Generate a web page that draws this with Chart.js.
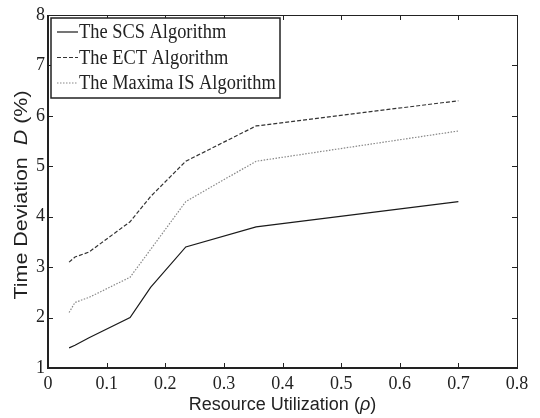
<!DOCTYPE html>
<html>
<head>
<meta charset="utf-8">
<script src="https://cdn.jsdelivr.net/npm/chart.js@4"></script>
<style>
  body { margin: 0; background: #fff; }
  #wrap { width: 540px; height: 418px; }
</style>
</head>
<body>
<div id="wrap"><canvas id="myChart"></canvas></div>
<script>
// resource utilization (rho) sample points
const utilization = [0.036, 0.046, 0.07, 0.14, 0.175, 0.235, 0.355, 0.7];
const scsDeviation = [1.4, 1.45, 1.6, 2.0, 2.6, 3.4, 3.8, 4.3];
const ectDeviation = [3.1, 3.2, 3.3, 3.9, 4.4, 5.1, 5.8, 6.3];
const maximaDeviation = [2.1, 2.3, 2.4, 2.8, 3.35, 4.3, 5.1, 5.7];
const seriesNames = ['The SCS Algorithm', 'The ECT Algorithm', 'The Maxima IS Algorithm'];
const xTicks = [0, 0.1, 0.2, 0.3, 0.4, 0.5, 0.6, 0.7, 0.8];
const yTicks = [1, 2, 3, 4, 5, 6, 7, 8];

const serif = "'Liberation Serif', 'Times New Roman', serif";
const sans = "'Liberation Sans', Arial, sans-serif";

function points(vals) {
    return utilization.map((x, i) => ({ x: x, y: vals[i] }));
}

// draws a run of text pieces (some italic) centred on 0,0
function mixedText(c, parts) {
    let total = 0;
    parts.forEach(p => { c.font = p[1]; total += c.measureText(p[0]).width; });
    let x0 = -total / 2;
    parts.forEach(p => {
        c.font = p[1];
        c.fillText(p[0], x0, 0);
        x0 += c.measureText(p[0]).width;
    });
}

// box, inward ticks, axis titles and the legend
const decor = {
    id: 'decor',
    afterDraw(chart) {
        const c = chart.ctx;
        const a = chart.chartArea;
        const xs = chart.scales.x, ys = chart.scales.y;
        c.save();
        c.strokeStyle = '#222';
        c.lineWidth = 1;
        c.strokeRect(a.left + 0.5, a.top + 0.5, a.right - a.left, a.bottom - a.top);
        c.lineWidth = 2;
        c.beginPath();
        c.moveTo(a.left, a.top);
        c.lineTo(a.left, a.bottom);
        c.lineTo(a.right, a.bottom);
        c.stroke();
        c.lineWidth = 1;
        c.beginPath();
        xTicks.forEach(v => {
            const px = Math.round(xs.getPixelForValue(v)) + 0.5;
            c.moveTo(px, a.bottom); c.lineTo(px, a.bottom - 5);
            c.moveTo(px, a.top); c.lineTo(px, a.top + 5);
        });
        yTicks.forEach(v => {
            const py = Math.round(ys.getPixelForValue(v)) + 0.5;
            c.moveTo(a.left, py); c.lineTo(a.left + 5, py);
            c.moveTo(a.right, py); c.lineTo(a.right - 5, py);
        });
        c.stroke();

        c.fillStyle = '#222';
        c.textBaseline = 'middle';

        // y axis title
        c.save();
        c.translate(22, 195);
        c.rotate(-Math.PI / 2);
        c.scale(1.13, 1);
        mixedText(c, [
            ['Time Deviation  ', '19px ' + sans],
            ['D', 'italic 19px ' + sans],
            [' (%)', '19px ' + sans]
        ]);
        c.restore();

        // x axis title
        c.save();
        c.translate((a.left + a.right) / 2, 405);
        mixedText(c, [
            ['Resource Utilization (', '18px ' + sans],
            ['\u03c1', 'italic 18px ' + sans],
            [')', '18px ' + sans]
        ]);
        c.restore();

        // legend
        const lx = a.left + 3, ly = a.top + 3, lw = 229, lh = 80;
        c.fillStyle = '#fff';
        c.fillRect(lx, ly, lw, lh);
        c.strokeStyle = '#222';
        c.lineWidth = 1.5;
        c.strokeRect(lx, ly, lw, lh);
        chart.data.datasets.forEach((ds, i) => {
            const y = ly + 14 + i * 25.5;
            c.strokeStyle = ds.borderColor;
            c.lineWidth = ds.borderWidth;
            c.setLineDash(ds.borderDash || []);
            c.beginPath();
            c.moveTo(lx + 6, y);
            c.lineTo(lx + 27, y);
            c.stroke();
            c.setLineDash([]);
            c.save();
            c.translate(lx + 28, y + 1);
            c.scale(0.92, 1);
            c.font = '20px ' + serif;
            c.fillStyle = '#222';
            c.fillText(ds.label, 0, 0);
            c.restore();
        });
        c.restore();
    }
};

new Chart(document.getElementById('myChart'), {
    type: 'line',
    data: {
        datasets: [{
            label: seriesNames[0],
            data: points(scsDeviation),
            borderColor: '#1a1a1a',
            borderWidth: 1.2
        }, {
            label: seriesNames[1],
            data: points(ectDeviation),
            borderColor: '#333',
            borderWidth: 1.2,
            borderDash: [4, 2]
        }, {
            label: seriesNames[2],
            data: points(maximaDeviation),
            borderColor: '#888',
            borderWidth: 1.2,
            borderDash: [1.5, 1.5]
        }]
    },
    options: {
        responsive: true,
        maintainAspectRatio: false,
        animation: false,
        elements: { point: { radius: 0 }, line: { tension: 0 } },
        layout: { padding: { top: 15, right: 23, left: 0, bottom: 0 } },
        plugins: { legend: { display: false }, tooltip: { enabled: false } },
        scales: {
            x: {
                type: 'linear',
                min: 0, max: 0.8,
                afterBuildTicks: s => { s.ticks = xTicks.map(v => ({ value: v })); },
                afterFit: s => { s.height = 50; },
                grid: { display: false, drawTicks: false },
                border: { display: false },
                ticks: {
                    color: '#222',
                    padding: 5,
                    font: { family: serif, size: 18 },
                    callback: v => String(v)
                }
            },
            y: {
                min: 1, max: 8,
                afterBuildTicks: s => { s.ticks = yTicks.map(v => ({ value: v })); },
                afterFit: s => { s.width = 48; },
                grid: { display: false, drawTicks: false },
                border: { display: false },
                ticks: {
                    color: '#222',
                    padding: 3,
                    font: { family: serif, size: 18 }
                }
            }
        }
    },
    plugins: [decor]
});
</script>
</body>
</html>
